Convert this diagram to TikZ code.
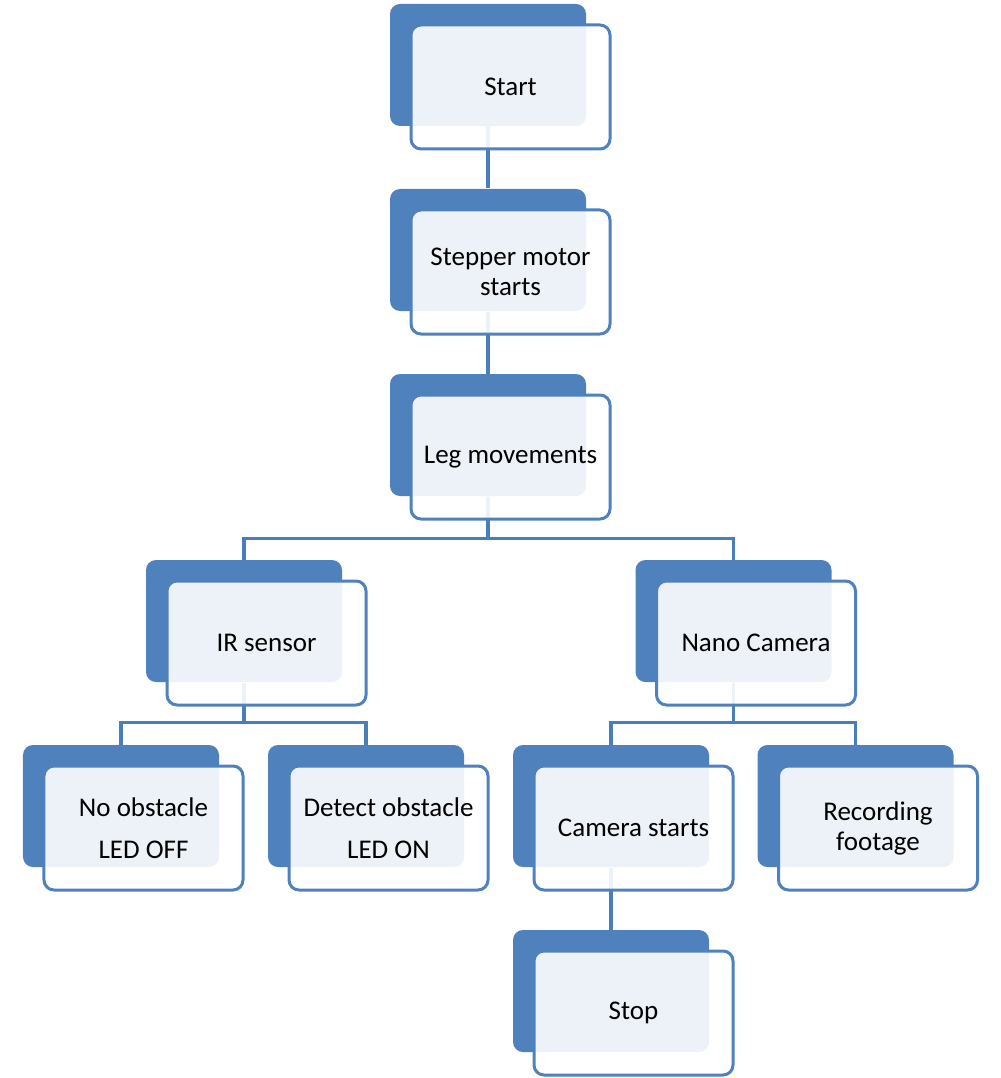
\documentclass[tikz,border=0pt]{standalone}
\usepackage{fontspec}
\setmainfont{Carlito}
\usetikzlibrary{positioning}
\definecolor{boxblue}{HTML}{4F81BD}
\definecolor{linkblue}{HTML}{4A7EBB}
\pgfdeclarelayer{bg}
\pgfsetlayers{bg,main}
\tikzstyle{link} = [line width=1.3pt,draw=linkblue]
\tikzset{backbox/.style={rectangle,rounded corners=4pt,fill=boxblue,minimum width=78.4pt,minimum height=48.8pt,inner sep=0pt},frontbox/.style={rectangle,rounded corners=4pt,draw=boxblue,line width=1.2pt,fill=white,fill opacity=0.9,text opacity=1,minimum width=79.6pt,minimum height=49.6pt,inner sep=0pt,align=center,font=\fontsize{10.8}{12}\selectfont}}

\begin{document}
\begin{tikzpicture}[x=0.4pt,y=-0.4pt]
    \useasboundingbox (0,0) rectangle (1000,1078);

    \node [backbox] (startback) at (488,65) {};
    \node [backbox] (stepperback) at (488,250) {};
    \node [backbox] (legback) at (488,435) {};
    \node [backbox] (irback) at (244,621) {};
    \node [backbox] (nanoback) at (733.5,621) {};
    \node [backbox] (noobsback) at (121,806) {};
    \node [backbox] (detobsback) at (366,806) {};
    \node [backbox] (camback) at (611,806) {};
    \node [backbox] (recback) at (855.5,806) {};
    \node [backbox] (stopback) at (611,991) {};

    \begin{pgfonlayer}{bg} % connectors behind the boxes
    \draw [link] (startback.south) -- (stepperback.north);
    \draw [link] (stepperback.south) -- (legback.north);
    \draw [link] (legback.south) -- ++(0,42) -| (irback.north);
    \draw [link] (legback.south) -- ++(0,42) -| (nanoback.north);
    \draw [link] (irback.south) -- ++(0,40) -| (noobsback.north);
    \draw [link] (irback.south) -- ++(0,40) -| (detobsback.north);
    \draw [link] (nanoback.south) -- ++(0,40) -| (camback.north);
    \draw [link] (nanoback.south) -- ++(0,40) -| (recback.north);
    \draw [link] (camback.south) -- (stopback.north);
    \end{pgfonlayer}

    \node [frontbox] (start) at ([xshift=9pt,yshift=-8.8pt]startback.center) {Start};
    \node [frontbox] (stepper) at ([xshift=9pt,yshift=-8.8pt]stepperback.center) {Stepper motor\\starts};
    \node [frontbox] (leg) at ([xshift=9pt,yshift=-8.8pt]legback.center) {Leg movements};
    \node [frontbox] (irsensor) at ([xshift=9pt,yshift=-8.8pt]irback.center) {IR sensor};
    \node [frontbox] (nanocam) at ([xshift=9pt,yshift=-8.8pt]nanoback.center) {Nano Camera};
    \node [frontbox] (noobs) at ([xshift=9pt,yshift=-8.8pt]noobsback.center) {No obstacle\\[5pt]LED OFF};
    \node [frontbox] (detobs) at ([xshift=9pt,yshift=-8.8pt]detobsback.center) {Detect obstacle\\[5pt]LED ON};
    \node [frontbox] (camstart) at ([xshift=9pt,yshift=-8.8pt]camback.center) {Camera starts};
    \node [frontbox] (recording) at ([xshift=9pt,yshift=-8.8pt]recback.center) {Recording\\footage};
    \node [frontbox] (stop) at ([xshift=9pt,yshift=-8.8pt]stopback.center) {Stop};
\end{tikzpicture}
\end{document}
